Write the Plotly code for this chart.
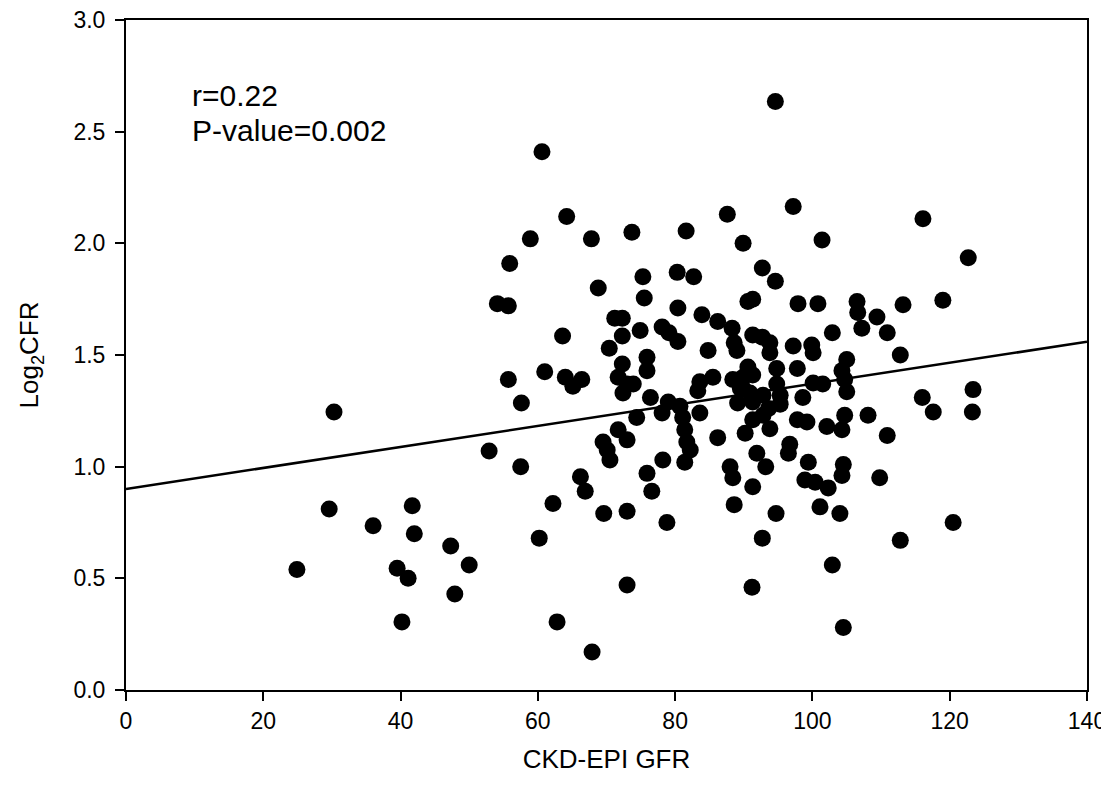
import plotly.graph_objects as go

gfr = [24.9, 29.6, 30.3, 36.0, 39.5, 40.2, 41.1, 41.7, 42.0, 47.3, 47.9, 50.0, 52.9, 54.1, 55.7, 55.9, 55.7, 57.6, 57.5, 58.9,
       60.2, 60.6, 61.0, 62.2, 62.8, 63.6, 64.0, 64.2, 65.1, 66.2, 66.4, 66.9, 67.8, 67.9, 68.8, 69.6, 69.5, 70.4, 70.5, 70.1,
       71.2, 72.3, 72.3, 72.3, 71.7, 73.0, 72.4, 73.9, 71.7, 73.0, 73.0, 73.0, 73.7, 74.4, 74.9, 75.3, 75.5, 75.9, 75.9, 76.4,
       75.9, 76.6, 78.1, 79.1, 78.1, 79.0, 78.2, 78.8, 80.3, 80.4, 80.4, 80.7, 81.1, 81.4, 81.7, 82.2, 81.4, 81.6, 82.7, 83.9,
       83.6, 83.3, 83.6, 84.8, 85.5, 86.2, 86.2, 87.6, 88.3, 88.6, 89.0, 88.4, 89.9, 89.1, 88.0, 88.4, 88.6, 89.9, 90.6, 90.6,
       91.3, 90.9, 91.3, 91.3, 90.2, 91.9, 93.2, 91.3, 91.2, 92.7, 92.7, 91.3, 92.7, 93.8, 93.8, 92.8, 93.6, 92.8, 93.8, 94.6,
       94.6, 94.8, 94.8, 95.3, 95.3, 96.7, 96.5, 94.7, 97.2, 97.9, 97.2, 97.8, 98.6, 97.8, 99.2, 99.4, 98.9, 100.4, 102.3, 100.8,
       99.9, 100.1, 100.1, 101.5, 101.4, 101.1, 102.1, 102.9, 102.9, 104.3, 104.5, 104.3, 104.0, 104.5, 105.0, 104.3, 104.7, 105.0,
       104.7, 106.5, 106.6, 107.2, 108.1, 109.4, 109.8, 110.9, 110.9, 112.8, 113.2, 112.8, 116.1, 116.0, 117.6, 119.0, 120.5,
       122.7, 123.4, 123.3, 91.3, 89.9, 89.5]
log2cfr = [0.54, 0.81, 1.245, 0.735, 0.545, 0.305, 0.50, 0.825, 0.70, 0.645, 0.43, 0.56, 1.07, 1.73, 1.72, 1.91, 1.39, 1.285, 1.00, 2.02,
           0.68, 2.41, 1.425, 0.835, 0.305, 1.585, 1.40, 2.12, 1.36, 0.955, 1.39, 0.89, 2.02, 0.17, 1.80, 0.79, 1.11, 1.53, 1.03, 1.075,
           1.665, 1.665, 1.585, 1.46, 1.40, 1.37, 1.33, 1.37, 1.165, 1.12, 0.80, 0.47, 2.05, 1.22, 1.61, 1.85, 1.755, 1.49, 1.43, 1.31,
           0.97, 0.89, 1.625, 1.60, 1.24, 1.29, 1.03, 0.75, 1.87, 1.71, 1.56, 1.27, 1.22, 1.165, 1.11, 1.075, 1.02, 2.055, 1.85, 1.68,
           1.38, 1.34, 1.24, 1.52, 1.40, 1.65, 1.13, 2.13, 1.62, 1.555, 1.52, 1.39, 1.35, 1.285, 1.00, 0.95, 0.83, 2.00, 1.74, 1.446,
           1.41, 1.33, 1.29, 1.21, 1.15, 1.06, 1.00, 0.91, 0.46, 0.68, 1.89, 1.59, 1.58, 1.555, 1.51, 1.32, 1.26, 1.23, 1.17, 2.635,
           1.83, 1.44, 1.37, 1.32, 1.28, 1.10, 1.06, 0.79, 2.165, 1.73, 1.54, 1.44, 1.31, 1.21, 1.20, 1.02, 0.94, 0.93, 0.905, 1.73,
           1.545, 1.51, 1.375, 1.37, 2.015, 0.82, 1.18, 1.60, 0.56, 1.165, 1.01, 0.96, 0.79, 0.28, 1.48, 1.43, 1.39, 1.335,
           1.23, 1.74, 1.69, 1.62, 1.23, 1.67, 0.95, 1.60, 1.14, 0.67, 1.725, 1.50, 2.11, 1.31, 1.245, 1.745, 0.75,
           1.935, 1.345, 1.245, 1.75, 1.40, 1.35]

fit_intercept = 0.90
fit_slope = 0.00471
fit_x = [0, 140]
fit_y = [fit_intercept + fit_slope * v for v in fit_x]

x_ticks = [0, 20, 40, 60, 80, 100, 120, 140]
y_ticks = [0.0, 0.5, 1.0, 1.5, 2.0, 2.5, 3.0]

fig = go.Figure()
fig.add_trace(go.Scatter(x=fit_x, y=fit_y, mode="lines",
                         line=dict(color="black", width=2.5), showlegend=False))
fig.add_trace(go.Scatter(x=gfr, y=log2cfr, mode="markers",
                         marker=dict(color="black", size=17, line=dict(width=0)),
                         showlegend=False))

font_family = "Liberation Sans, Arial, sans-serif"
fig.update_layout(
    width=1101, height=793,
    margin=dict(l=118, r=22, t=12, b=111),
    paper_bgcolor="white", plot_bgcolor="white",
    font=dict(family=font_family, color="black"),
    xaxis=dict(range=[0, 140], tickvals=x_ticks, ticktext=[str(v) for v in x_ticks],
               automargin=False, ticklabeloverflow="allow",
               showgrid=False, zeroline=False, showline=True, linecolor="black", linewidth=2,
               mirror=True, ticks="outside", ticklen=9, tickwidth=2, tickcolor="black",
               tickfont=dict(size=23, family=font_family),
               title=dict(text="CKD-EPI GFR", font=dict(size=26, family=font_family), standoff=17)),
    yaxis=dict(range=[0, 3.0], tickvals=y_ticks, ticktext=[f"{v:.1f}" for v in y_ticks],
               automargin=False, ticklabeloverflow="allow", ticklabelstandoff=5,
               showgrid=False, zeroline=False, showline=True, linecolor="black", linewidth=2,
               mirror=True, ticks="outside", ticklen=9, tickwidth=2, tickcolor="black",
               tickfont=dict(size=23, family=font_family),
               title=dict(text="Log<sub>2</sub>CFR", font=dict(size=26, family=font_family), standoff=27)),
    annotations=[
        dict(x=9.3, y=2.66, xref="x", yref="y", text="r=0.22", showarrow=False,
             xanchor="left", yanchor="middle", font=dict(size=30, family=font_family)),
        dict(x=9.3, y=2.505, xref="x", yref="y", text="P-value=0.002", showarrow=False,
             xanchor="left", yanchor="middle", font=dict(size=30, family=font_family)),
    ],
)

fig.write_html("out.html")
